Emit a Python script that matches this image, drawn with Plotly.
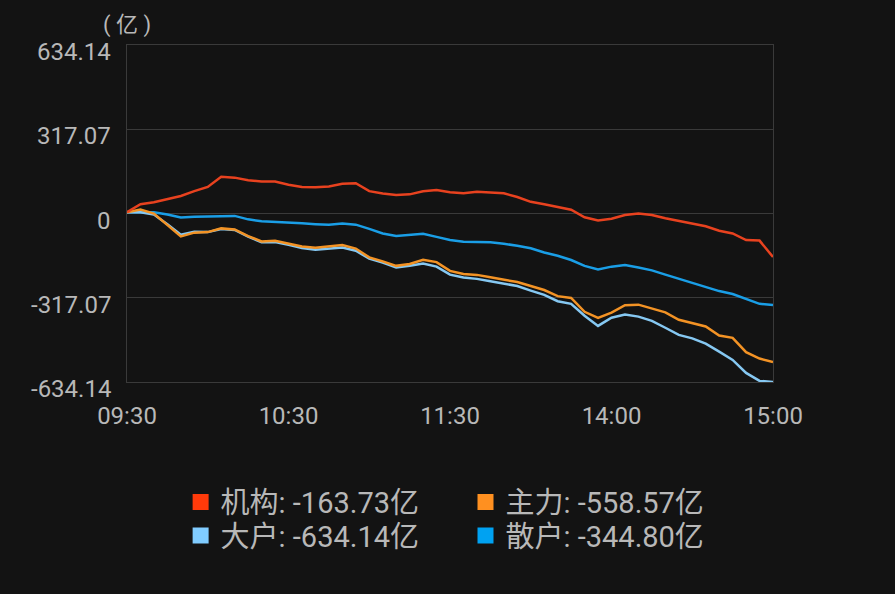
import plotly.graph_objects as go

# time categories (5-minute steps, lunch break removed)
morning = [f"{9 + (30 + m) // 60:02d}:{(30 + m) % 60:02d}" for m in range(0, 121, 5)]
afternoon = [f"{13 + m // 60:02d}:{m % 60:02d}" for m in range(5, 121, 5)]
times = morning + afternoon

jigou = [5, 35, 42, 55, 66, 84, 100, 138, 135, 125, 120, 120, 108, 100, 99, 102, 112, 114, 84, 75,
         70, 72, 84, 88, 80, 76, 82, 79, 76, 62, 44, 35, 25, 14, -14, -26, -20, -6, 0, -6,
         -18, -28, -38, -48, -65, -75, -100, -102, -163.73]
zhuli = [5, 15, 0, -42, -86, -72, -70, -56, -60, -85, -105, -103, -113, -124, -129, -124, -119, -132, -165, -180,
         -197, -190, -174, -183, -216, -228, -231, -240, -250, -258, -273, -288, -311, -318, -370, -393, -373, -345, -343, -357,
         -372, -400, -412, -425, -459, -468, -522, -546, -558.57]
dahu = [5, 5, -4, -40, -80, -69, -70, -58, -62, -87, -108, -107, -118, -130, -136, -132, -128, -140, -170, -185,
        -203, -197, -188, -200, -230, -241, -246, -255, -263, -273, -290, -306, -330, -340, -385, -423, -392, -380, -388, -404,
        -430, -457, -470, -490, -520, -551, -600, -630, -634.14]
sanhu = [5, 5, 5, -4, -15, -12, -12, -10, -9, -22, -29, -31, -34, -37, -40, -42, -38, -42, -58, -75,
         -85, -80, -76, -88, -100, -106, -106, -108, -114, -121, -131, -147, -159, -175, -197, -211, -200, -194, -203, -214,
         -230, -246, -262, -276, -292, -303, -322, -340, -344.80]

series_names = ["机构", "主力", "大户", "散户"]
series_values = [jigou, zhuli, dahu, sanhu]
colors = ["#E8421F", "#F39325", "#86C8F2", "#1A9EE6"]
legend_colors = ["#FF3A0A", "#FF9020", "#80CCFF", "#00A2F2"]
legend_ids = ["legend", "legend2", "legend3", "legend4"]

y_ticks = [634.14, 317.07, 0, -317.07, -634.14]
y_ticktext = ["634.14", "317.07", "0", "-317.07", "-634.14"]
x_ticks = ["09:30", "10:30", "11:30", "14:00", "15:00"]
unit = "( 亿 )"

BG = "#131313"
GRID = "#3a3a3a"
TXT = "#b8b8b8"
FONT = "Roboto, 'Noto Sans CJK SC', sans-serif"

fig = go.Figure()
# draw order: light blue under orange
for idx in [3, 2, 1, 0]:
    fig.add_trace(go.Scatter(x=times, y=series_values[idx], mode="lines",
                             line=dict(color=colors[idx], width=2.5),
                             showlegend=False, hoverinfo="skip"))
for name, vals, lc, lid in zip(series_names, series_values, legend_colors, legend_ids):
    fig.add_trace(go.Scatter(x=[None], y=[None], mode="markers",
                             marker=dict(symbol="square", size=16, color=lc),
                             name=f"{name}: {vals[-1]:.2f}亿", legend=lid))

leg_common = dict(font=dict(family=FONT, size=29, color=TXT), bgcolor="rgba(0,0,0,0)",
                  orientation="v", yanchor="top", xanchor="left", itemclick=False,
                  itemdoubleclick=False)
col_x = [0.083, 0.524]
row_y = [-0.281, -0.380]
fig.update_layout(
    width=895, height=594,
    paper_bgcolor=BG, plot_bgcolor=BG,
    margin=dict(l=127, r=122, t=45, b=212),
    font=dict(family=FONT, color=TXT, size=24),
    legend=dict(x=col_x[0], y=row_y[0], **leg_common),
    legend2=dict(x=col_x[1], y=row_y[0], **leg_common),
    legend3=dict(x=col_x[0], y=row_y[1], **leg_common),
    legend4=dict(x=col_x[1], y=row_y[1], **leg_common),
    xaxis=dict(type="category", range=[0, len(times) - 1], tickmode="array", tickvals=x_ticks,
               ticktext=x_ticks, showgrid=False, showline=True, mirror=True, linecolor=GRID,
               linewidth=1, ticks="", ticklabelstandoff=12,
               tickfont=dict(family=FONT, size=24, color=TXT), zeroline=False),
    yaxis=dict(range=[-634.14, 634.14], tickmode="array", tickvals=y_ticks, showticklabels=False,
               showgrid=True, gridcolor=GRID, gridwidth=1, zeroline=True, zerolinecolor=GRID,
               zerolinewidth=1, showline=True, mirror=True, linecolor=GRID, linewidth=1, ticks=""),
)
for v, t in zip(y_ticks, y_ticktext):
    fig.add_annotation(x=0, xref="paper", y=v, yref="y", text=t, showarrow=False,
                       xanchor="right", yanchor="middle", xshift=-14, yshift=-7,
                       font=dict(family=FONT, size=24, color=TXT))
fig.add_annotation(x=0, xref="paper", y=1, yref="paper", text=unit, showarrow=False,
                   xanchor="center", yanchor="middle", yshift=20,
                   font=dict(family=FONT, size=22, color=TXT))

fig.write_html("out.html", config={"displayModeBar": False},
               post_script="document.body.style.margin='0';document.body.style.background='#131313';"
                           "document.body.style.overflow='hidden';")
